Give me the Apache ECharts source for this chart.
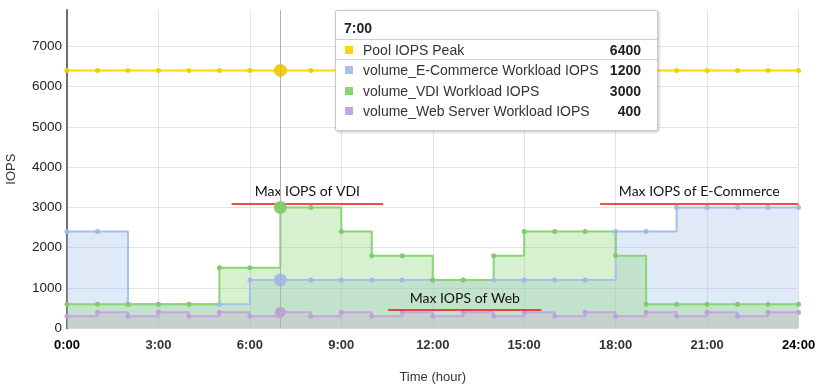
<!DOCTYPE html>
<html><head><meta charset="utf-8">
<script src="https://cdn.jsdelivr.net/npm/echarts@6/dist/echarts.min.js"></script>
<style>html,body{margin:0;padding:0;background:#fff}#c{width:818px;height:385px}</style>
</head><body><div id="c"></div>
<script>
// ---- data ----
const hours = [0,1,2,3,4,5,6,7,8,9,10,11,12,13,14,15,16,17,18,19,20,21,22,23,24];
const seriesNames = ['Pool IOPS Peak','volume_E-Commerce Workload IOPS','volume_VDI Workload IOPS','volume_Web Server Workload IOPS'];
const poolPeak = [6400,6400,6400,6400,6400,6400,6400,6400,6400,6400,6400,6400,6400,6400,6400,6400,6400,6400,6400,6400,6400,6400,6400,6400,6400];
const ecommerce = [2400,2400,600,600,600,600,1200,1200,1200,1200,1200,1200,1200,1200,1200,1200,1200,1200,2400,2400,3000,3000,3000,3000,3000];
const vdi = [600,600,600,600,600,1500,1500,3000,3000,2400,1800,1800,1200,1200,1800,2400,2400,2400,1800,600,600,600,600,600,600];
const web = [300,400,300,400,300,400,300,400,300,400,300,400,300,400,300,400,300,400,300,400,300,400,300,400,400];
const xTickLabels = ['0:00','3:00','6:00','9:00','12:00','15:00','18:00','21:00','24:00'];
const yTickLabels = ['0','1000','2000','3000','4000','5000','6000','7000'];
const focusIndex = 7;
const annotationTexts = ['Max IOPS of VDI','Max IOPS of Web','Max IOPS of E-Commerce'];
const annotationHourFrom = [5.4, 10.53, 17.49];
const annotationHourTo = [10.37, 15.57, 24];
const annotationLevel = [3100, 450, 3100];

// ---- styling ----
const FONT = "'Liberation Sans', Arial, sans-serif";
const colors = {
  pool: {line: '#FFD700', mark: '#F2CE00', area: null},
  ecom: {line: 'rgb(168,192,234)', mark: 'rgb(160,186,232)', area: 'rgba(160,186,230,0.46)'},
  vdi:  {line: 'rgb(135,214,112)', mark: 'rgb(125,205,105)', area: 'rgba(130,210,110,0.46)'},
  web:  {line: 'rgb(196,166,222)', mark: 'rgb(190,160,218)', area: 'rgba(205,175,207,0.50)'}
};
const seriesData = [poolPeak, ecommerce, vdi, web];
const seriesColors = [colors.pool, colors.ecom, colors.vdi, colors.web];
const legendSwatch = ['#FFD700','rgb(168,192,234)','rgb(135,214,112)','rgb(196,166,222)'];

const chart = echarts.init(document.getElementById('c'), null, {renderer: 'canvas'});

const series = seriesData.map((arr, i) => {
  const c = seriesColors[i];
  const s = {
    name: seriesNames[i],
    type: 'line',
    step: i === 0 ? false : 'end',
    data: hours.map((h, k) => [h, arr[k]]),
    symbol: 'circle',
    symbolSize: 5,
    showSymbol: true,
    lineStyle: {color: c.line, width: 2},
    itemStyle: {color: c.mark},
    emphasis: {disabled: true},
    animation: false,
    markPoint: {
      silent: true,
      symbol: 'circle',
      symbolSize: i === 3 ? 11 : 13,
      label: {show: false},
      itemStyle: {color: c.mark, opacity: 0.95},
      data: [{coord: [hours[focusIndex], arr[focusIndex]]}]
    }
  };
  if (c.area) s.areaStyle = {color: c.area};
  return s;
});

// annotations as mark lines (data coordinates)
series[0].markLine = {
  silent: true,
  symbol: ['none', 'none'],
  lineStyle: {color: '#ee1111', width: 1.5, type: 'solid'},
  label: {show: true, position: 'insideMiddleTop', distance: 5, color: '#111',
          fontFamily: 'Lato, "Open Sans", sans-serif', fontSize: 14},
  data: annotationTexts.map((t, i) => [
    {coord: [annotationHourFrom[i], annotationLevel[i]], label: {formatter: t}},
    {coord: [annotationHourTo[i], annotationLevel[i]]}
  ])
};

const option = {
  animation: false,
  grid: {left: 67, right: 19.5, top: 10, bottom: 56.7, containLabel: false, outerBoundsMode: 'none'},
  tooltip: {
    trigger: 'axis',
    alwaysShowContent: true,
    transitionDuration: 0,
    showDelay: 0,
    hideDelay: 100000,
    padding: 0,
    backgroundColor: 'rgba(255,255,255,0.97)',
    borderColor: '#c9c9c9',
    borderWidth: 1,
    extraCssText: 'box-shadow:1px 1px 3px rgba(0,0,0,0.25);border-radius:2px;',
    position: function () { return [335, 10]; },
    axisPointer: {type: 'line', lineStyle: {color: '#b0b0b0', width: 1, type: 'solid'}, label: {show: false}},
    formatter: function (params) {
      const idx = params[0].dataIndex;
      let h = '<div style="width:321px;font-family:' + FONT.replace(/"/g, "'") + ';color:#333;">';
      h += '<div style="height:28px;box-sizing:border-box;padding:9px 0 0 8px;font-size:14px;line-height:16px;font-weight:bold;color:#222;">' + hours[idx] + ':00</div>';
      params.forEach((p, i) => {
        const border = i === 0 ? 'border-top:1px solid #f5d84a;border-bottom:1px solid #f5d84a;height:19px;' : 'height:20.5px;';
        h += '<div style="display:flex;align-items:center;box-sizing:content-box;' + border + 'padding:0 16px 0 9px;font-size:14px;line-height:16px;">' +
             '<span style="display:inline-block;width:8px;height:8px;background:' + legendSwatch[p.seriesIndex] + ';margin-right:10px;"></span>' +
             '<span style="flex:1;white-space:nowrap;">' + seriesNames[p.seriesIndex] + '</span>' +
             '<span style="font-weight:bold;color:#222;">' + seriesData[p.seriesIndex][idx] + '</span></div>';
      });
      h += '<div style="height:8px"></div></div>';
      return h;
    }
  },
  xAxis: {
    type: 'value',
    min: 0, max: 24, interval: 3,
    name: 'Time (hour)',
    nameLocation: 'middle',
    nameGap: 43,
    nameTextStyle: {fontFamily: FONT, fontSize: 13, color: '#333'},
    axisLine: {show: false},
    axisTick: {show: false},
    axisLabel: {
      margin: 11,
      fontFamily: FONT,
      fontSize: 13,
      formatter: function (v) {
        const t = xTickLabels[Math.round(v / 3)];
        return (v === 0 || v === 24) ? '{e|' + t + '}' : '{n|' + t + '}';
      },
      rich: {
        e: {fontFamily: FONT, fontSize: 13, fontWeight: 'bold', color: '#000'},
        n: {fontFamily: FONT, fontSize: 13, fontWeight: 'bold', color: '#333'}
      }
    },
    splitLine: {show: true, lineStyle: {color: '#e4e4e4', width: 1}}
  },
  yAxis: {
    type: 'value',
    min: 0, max: 7900, interval: 1000,
    name: 'IOPS',
    nameLocation: 'middle',
    nameGap: 49,
    nameTextStyle: {fontFamily: FONT, fontSize: 13, color: '#333'},
    axisLine: {show: true, lineStyle: {color: '#707070', width: 2}},
    axisTick: {show: false},
    axisLabel: {
      margin: 5,
      fontFamily: FONT,
      fontSize: 13.5,
      color: '#222',
      showMaxLabel: false,
      formatter: function (v) { const k = Math.round(v / 1000); return yTickLabels[k] !== undefined && v % 1000 === 0 ? yTickLabels[k] : ''; }
    },
    splitLine: {show: true, lineStyle: {color: ['#e4e4e4','#e4e4e4','#e4e4e4','#e4e4e4','#e4e4e4','#e4e4e4','#e4e4e4','#e4e4e4','rgba(0,0,0,0)'], width: 1}}
  },
  series: series
};

chart.setOption(option);
chart.dispatchAction({type: 'showTip', seriesIndex: 0, dataIndex: focusIndex});
setTimeout(function () { chart.dispatchAction({type: 'showTip', seriesIndex: 0, dataIndex: focusIndex}); }, 50);
</script>
</body></html>
